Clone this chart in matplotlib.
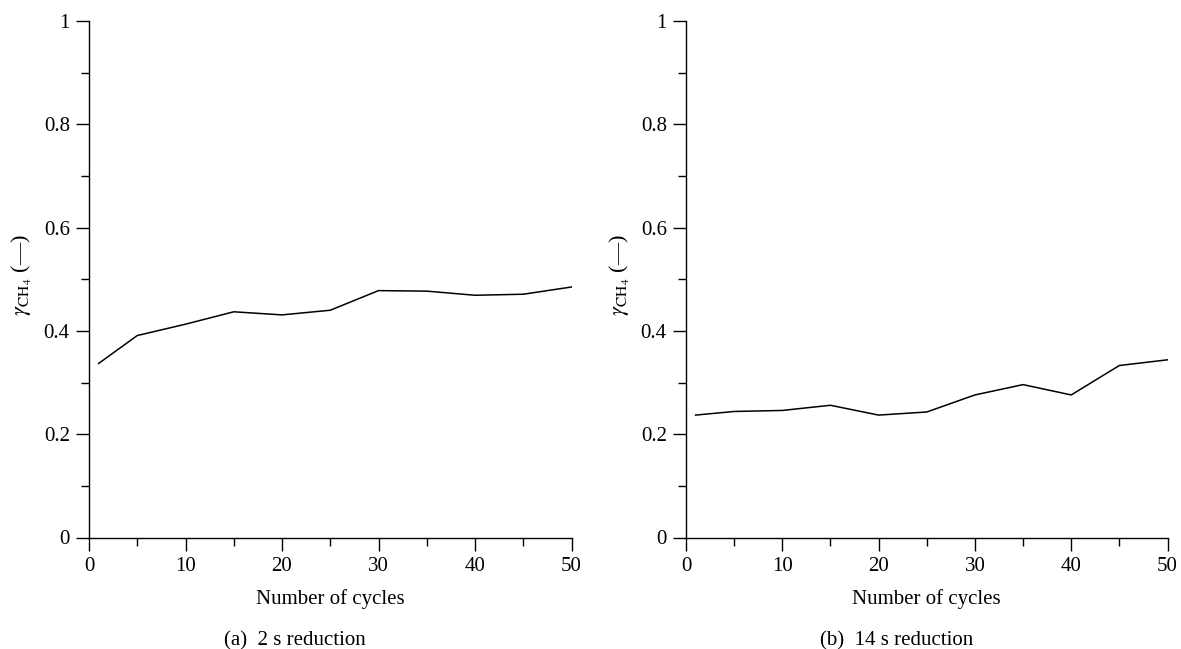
import numpy as np
import matplotlib
matplotlib.use("Agg")
import matplotlib.pyplot as plt
from matplotlib.ticker import MultipleLocator

plt.rcParams["font.family"] = ["Liberation Serif", "DejaVu Serif"]
plt.rcParams["mathtext.fontset"] = "stix"

# cycles and CH4 yield
cycles = [1, 5, 10, 15, 20, 25, 30, 35, 40, 45, 50]
gamma_2s = [0.337, 0.391, 0.413, 0.437, 0.431, 0.440, 0.478, 0.477, 0.469, 0.471, 0.485]
gamma_14s = [0.237, 0.244, 0.246, 0.256, 0.237, 0.243, 0.276, 0.296, 0.276, 0.333, 0.344]
captions = ["(a)  2 s reduction", "(b)  14 s reduction"]

W, H = 1181, 649
fig = plt.figure(figsize=(W / 100, H / 100), dpi=100)


def setup_axes(x0, x1, y, caption, cap_x, ylab_x):
    ax = fig.add_axes([x0 / W, 1 - 537.5 / H, (x1 - x0) / W, (537.5 - 21) / H])
    ax.plot(cycles, y, color="black", linewidth=1.1)
    ax.set_xlim(0, 50)
    ax.set_ylim(0, 1)
    ax.spines["top"].set_visible(False)
    ax.spines["right"].set_visible(False)
    for s in ("left", "bottom"):
        ax.spines[s].set_linewidth(1.0)
    ax.xaxis.set_major_locator(MultipleLocator(10))
    ax.xaxis.set_minor_locator(MultipleLocator(5))
    ax.yaxis.set_minor_locator(MultipleLocator(0.1))
    ax.set_yticks([0, 0.2, 0.4, 0.6, 0.8, 1])
    ax.set_yticklabels(["0", "0.2", "0.4", "0.6", "0.8", "1"])
    ax.tick_params(which="major", length=9.3, width=1.0, direction="out", labelsize=15)
    ax.tick_params(axis="x", which="major", pad=4.5)
    ax.tick_params(axis="y", which="major", pad=4.5)
    ax.tick_params(which="minor", length=5.8, width=1.0, direction="out")
    xc = (x0 + x1) / 2
    fig.text(xc / W, 1 - 604 / H, "Number of cycles", fontsize=15,
             ha="center", va="baseline")
    fig.text(ylab_x / W, 1 - 275 / H, r"$\gamma_{\mathrm{CH}_4}$ (—)", rotation=90,
             fontsize=16, ha="center", va="center")
    fig.text(cap_x / W, 1 - 645 / H, caption, fontsize=15, ha="center", va="baseline")
    return ax


ax1 = setup_axes(89, 571.5, gamma_2s, captions[0], 295, 22)
ax2 = setup_axes(686, 1167.5, gamma_14s, captions[1], 897, 620)

fig.savefig("out.png", dpi=100)
